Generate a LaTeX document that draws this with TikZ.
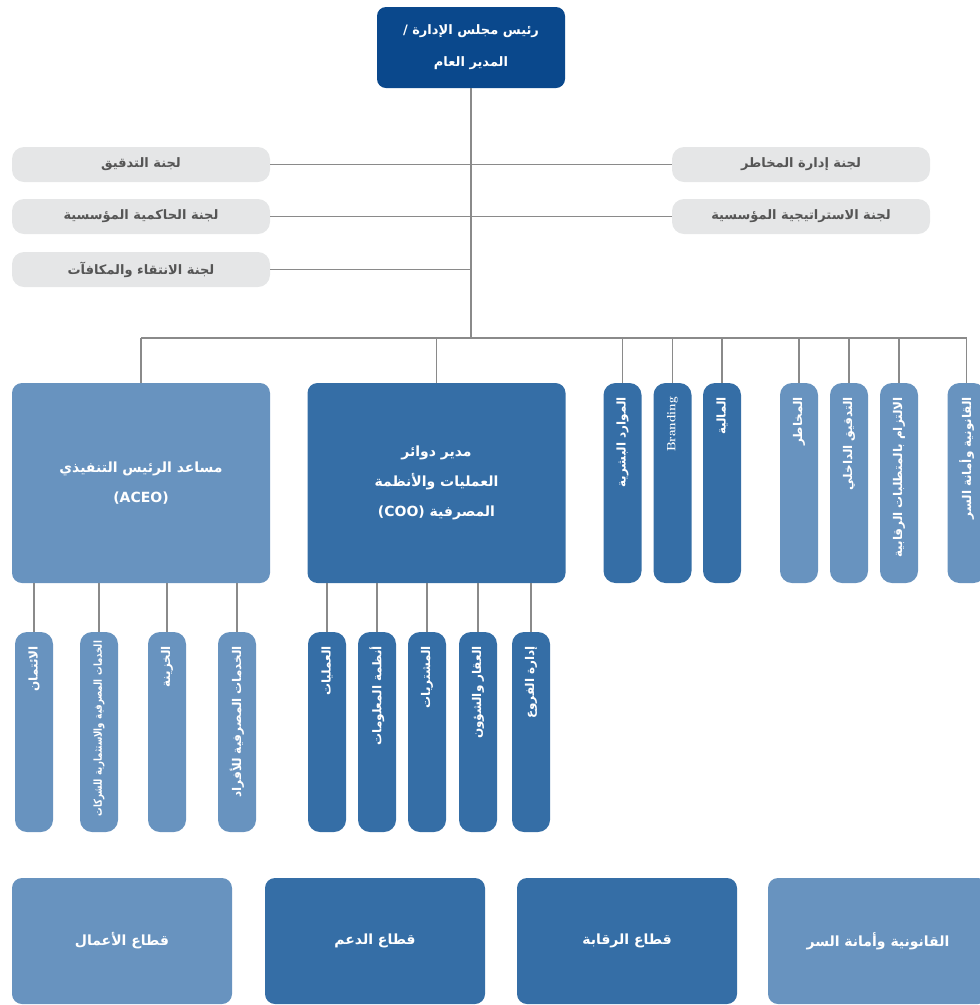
\documentclass[tikz,border=0pt]{standalone}
\usepackage{fontspec}
\newfontfamily\arabicfont[Script=Arabic]{DejaVu Sans}
\newfontfamily\arabicnarrow[Script=Arabic,FakeStretch=0.78]{DejaVu Sans}
\TeXXeTstate=1
\definecolor{navy}{RGB}{10,72,140}
\definecolor{midblue}{RGB}{53,110,166}
\definecolor{lightblue}{RGB}{104,147,191}
\definecolor{boxgray}{RGB}{229,230,231}
\definecolor{linegray}{RGB}{138,138,138}
\definecolor{txtgray}{RGB}{85,85,85}
\newcommand{\ar}[1]{{\arabicfont\bfseries\beginR #1\endR}}
\newcommand{\arn}[1]{{\arabicnarrow\bfseries\beginR #1\endR}}
\tikzset{
  link/.style={draw=linegray, line width=1.5pt},
  chief/.style={fill=navy, rounded corners=9pt, minimum width=188pt, minimum height=81pt,
    text=white, align=center, font=\fontsize{13}{32}\selectfont},
  cmte/.style={fill=boxgray, rounded corners=12pt, minimum width=258pt, minimum height=35pt,
    text=txtgray, font=\fontsize{13}{15}\selectfont},
  head/.style={rounded corners=10pt, minimum width=258pt, minimum height=200pt,
    text=white, align=center, font=\fontsize{14}{30}\selectfont},
  slim/.style={rotate=90, rounded corners=12pt, minimum width=200pt, minimum height=38pt,
    text width=172pt, inner xsep=14pt, inner ysep=0pt, align=right, text=white,
    font=\fontsize{12}{14}\selectfont},
  longtext/.style={text width=182pt, inner xsep=9pt, font=\fontsize{11}{13}\selectfont},
  sector/.style={rounded corners=10pt, minimum width=220pt, minimum height=126pt,
    text=white, font=\fontsize{14}{16}\selectfont}
}
\begin{document}
\begin{tikzpicture}[x=1pt,y=-1pt]
    \useasboundingbox (0,0) rectangle (980,1005);
    %% chairman
    \node[chief] (chair) at (471,47.5) {\ar{رئيس مجلس الإدارة /}\\\ar{المدير العام}};
    %% committees
    \node[cmte] (audit) at (141,164.5) {\ar{لجنة التدقيق}};
    \node[cmte] (gov) at (141,216.5) {\ar{لجنة الحاكمية المؤسسية}};
    \node[cmte] (nom) at (141,269.5) {\ar{لجنة الانتقاء والمكافآت}};
    \node[cmte] (riskc) at (801,164.5) {\ar{لجنة إدارة المخاطر}};
    \node[cmte] (strat) at (801,216.5) {\ar{لجنة الاستراتيجية المؤسسية}};
    \coordinate (bar) at (471,338);
    \draw[link] (chair) -- (bar);
    \foreach \c in {audit,gov,nom}
        \draw[link] (\c.east) -- (\c.east -| chair.south);
    \foreach \c in {riskc,strat}
        \draw[link] (\c.west) -- (\c.west -| chair.south);
    %% ACEO and COO
    \node[head, fill=lightblue] (aceo) at (141,483)
        {\ar{مساعد الرئيس التنفيذي}\\\ar{\beginL(ACEO)\endL}};
    \node[head, fill=midblue] (coo) at (436.5,483)
        {\ar{مدير دوائر}\\\ar{العمليات والأنظمة}\\\ar{المصرفية \beginL(COO)\endL}};
    %% departments on the bar
    \foreach \n/\x/\col/\t in {hr/622.5/midblue/{\ar{الموارد البشرية}},
            brand/672.5/midblue/{\textbf{Branding}},
            fin/722/midblue/{\ar{المالية}},
            risk/799/lightblue/{\ar{المخاطر}},
            intaud/849/lightblue/{\ar{التدقيق الداخلي}},
            comp/899/lightblue/{\ar{الالتزام بالمتطلبات الرقابية}},
            legal/966.5/lightblue/{\ar{القانونية وأمانة السر}}}
        \node[slim, fill=\col] (\n) at (\x,483) {\t};
    \draw[link] (aceo.north |- bar) -- (legal.east |- bar);
    \draw[link] (aceo.north) -- (aceo.north |- bar);
    \draw[link] (coo.north) -- (coo.north |- bar);
    \foreach \n in {hr,brand,fin,risk,intaud,comp,legal}
        \draw[link] (\n.east) -- (\n.east |- bar);
    %% under ACEO
    \foreach \n/\x/\s/\t in {credit/34/{}/{\ar{الائتمان}},
            corp/99/longtext/{\arn{الخدمات المصرفية والاستثمارية للشركات}},
            treas/167/{}/{\ar{الخزينة}},
            retail/237/{}/{\ar{الخدمات المصرفية للأفراد}}}
        \node[slim, fill=lightblue, \s] (\n) at (\x,732) {\t};
    \foreach \n in {credit,corp,treas,retail}
        \draw[link] (\n.east) -- (\n.east |- aceo.south);
    %% under COO
    \foreach \n/\x/\t in {ops/327/{\ar{العمليات}},
            infosys/377/{\ar{أنظمة المعلومات}},
            purch/427/{\ar{المشتريات}},
            estate/478/{\ar{العقار والشؤون}},
            branch/531/{\ar{إدارة الفروع}}}
        \node[slim, fill=midblue] (\n) at (\x,732) {\t};
    \foreach \n in {ops,infosys,purch,estate,branch}
        \draw[link] (\n.east) -- (\n.east |- coo.south);
    %% key
    \node[sector, fill=lightblue] (business) at (122,941) {\ar{قطاع الأعمال}};
    \node[sector, fill=midblue] (support) at (375,941) {\ar{قطاع الدعم}};
    \node[sector, fill=midblue] (control) at (627,941) {\ar{قطاع الرقابة}};
    \node[sector, fill=lightblue] (legalkey) at (878,941) {\ar{القانونية وأمانة السر}};
\end{tikzpicture}
\end{document}
